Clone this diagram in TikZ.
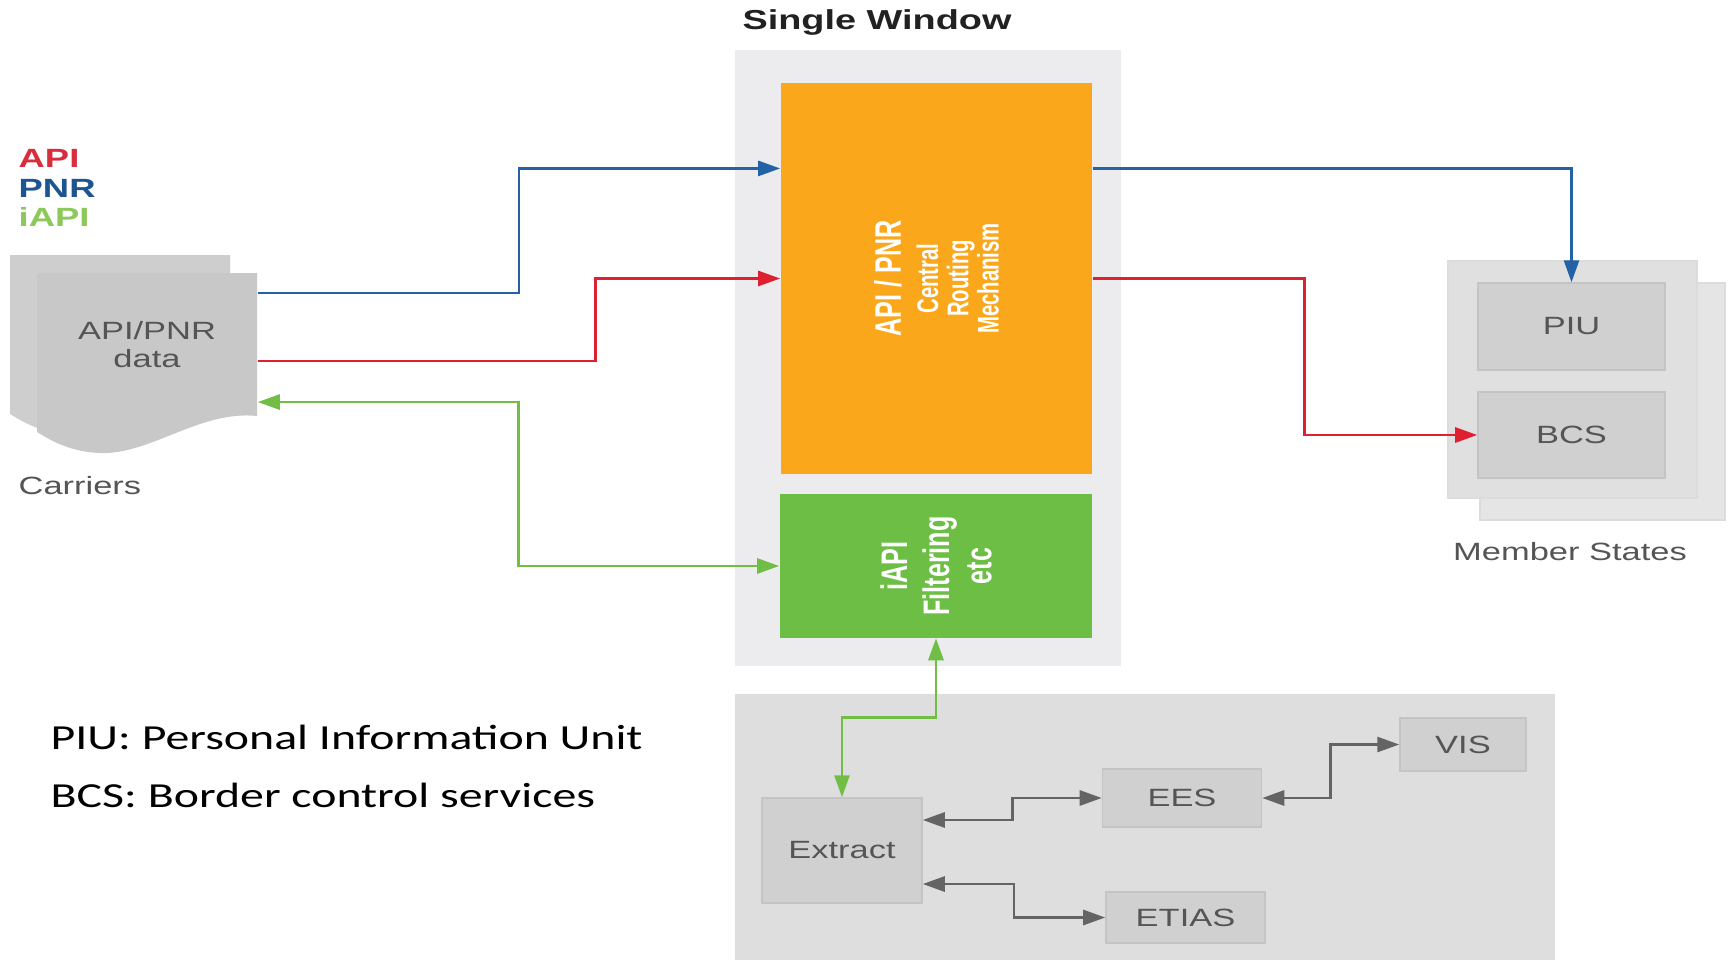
\documentclass[tikz,border=0pt]{standalone}
\usepackage{fontspec}
\setmainfont{Liberation Sans}[FakeStretch=1.38]
\newfontfamily\notefont{Carlito}[FakeStretch=1.36]
\newfontfamily\narrowfont{Liberation Sans}[FakeStretch=0.68]
\usetikzlibrary{arrows.meta,calc}

% Colours
\definecolor{routeorange}{RGB}{250,167,28}
\definecolor{filtergreen}{RGB}{109,190,69}
\definecolor{swpanel}{RGB}{236,236,239}
\definecolor{extpanel}{RGB}{222,222,222}
\definecolor{msfront}{RGB}{224,224,224}
\definecolor{msback}{RGB}{229,229,229}
\definecolor{boxfill}{RGB}{208,208,208}
\definecolor{boxline}{RGB}{196,196,196}
\definecolor{docfront}{RGB}{200,200,200}
\definecolor{docback}{RGB}{206,206,206}
\definecolor{labelgray}{RGB}{85,85,85}
\definecolor{pnrblue}{RGB}{35,98,165}
\definecolor{apired}{RGB}{222,32,48}
\definecolor{iapigreen}{RGB}{112,190,70}
\definecolor{linkgray}{RGB}{100,100,100}
\definecolor{legred}{RGB}{215,45,60}
\definecolor{legblue}{RGB}{30,85,145}
\definecolor{leggreen}{RGB}{140,200,90}

% Smaller lines of the routing label
\newcommand{\rtsmall}{\fontsize{8.5}{8.6}\selectfont}

\begin{document}
\begin{tikzpicture}[x=0.01cm, y=-0.01cm]

    % Define styles
    \tikzset{
        block/.style={draw=none, inner sep=0pt},
        block text/.style={rotate=90, align=center, text=white, inner sep=0pt,
            font=\narrowfont\bfseries\fontsize{10.5}{12}\selectfont},
        ms box/.style={draw=boxline, fill=boxfill, text=labelgray, inner sep=0pt,
            minimum width=1.87cm, font=\fontsize{7.1}{7.9}\selectfont},
        ext box/.style={ms box},
        caption/.style={text=labelgray, inner sep=0pt, font=\fontsize{7.1}{7.9}\selectfont},
        legend/.style={inner sep=0pt, anchor=west, font=\bfseries\fontsize{7.5}{8.4}\selectfont},
        note/.style={inner sep=0pt, anchor=west, text=black, font=\notefont\fontsize{10}{12}\selectfont},
        flow/.style={line width=0.75pt, -{Triangle[length=0.22cm, width=0.15cm]}},
        flow2/.style={line width=0.8pt, {Triangle[length=0.22cm, width=0.15cm]}-{Triangle[length=0.22cm, width=0.15cm]}},
        hvh/.style={to path={-| ($(\tikztostart)!0.5!(\tikztotarget)$) |- (\tikztotarget)}},
        vhv/.style={to path={|- ($(\tikztostart)!0.5!(\tikztotarget)$) -| (\tikztotarget)}}
    }

    \useasboundingbox (0,0) rectangle (1729,960);

    % Background panels
    \fill[swpanel] (735,50) rectangle (1121,666);
    \fill[extpanel] (735,694) rectangle (1555,960);
    \filldraw[fill=msback, draw=boxline!60] (1480,283) rectangle (1725,520);
    \filldraw[fill=msfront, draw=boxline!60] (1448,261) rectangle (1697,498);

    % Carrier documents, back sheet first
    \foreach \dx/\dy/\col in {-27/-18/docback, 0/0/docfront} {
        \fill[\col, shift={(\dx,\dy)}] (37,273) -- (257,273) -- (257,416)
            .. controls (200,410) and (150,455) .. (100,453)
            .. controls (70,452) and (50,440) .. (37,432) -- cycle;
    }

    % Title and legend
    \node[text=black!87, inner sep=0pt, font=\bfseries\fontsize{7.8}{9}\selectfont] (swtitle) at (877,22) {Single Window};
    \node[legend, text=legred] (legapi) at (18,158) {API};
    \node[legend, text=legblue] (legpnr) at (18,188) {PNR};
    \node[legend, text=leggreen] (legiapi) at (18,217) {iAPI};

    % Carriers
    \node[caption, align=center, minimum width=2.2cm, minimum height=1.43cm] (carriers) at (147,344.5) {API/PNR\\data};
    \node[caption, anchor=west] (carrierslabel) at (18,486) {Carriers};

    % Single window blocks
    \node[block, fill=routeorange, minimum width=3.11cm, minimum height=3.9cm] (routing) at (936.5,278.5) {};
    \node[block text, font=\narrowfont\bfseries\fontsize{10.5}{8.6}\selectfont] (routinglabel) at (routing.center)
        {API / PNR\\[2pt]\rtsmall Central\\\rtsmall Routing\\\rtsmall Mechanism};
    \node[block, fill=filtergreen, minimum width=3.12cm, minimum height=1.43cm] (filter) at (936,566) {};
    \node[block text] (filterlabel) at (filter.center) {iAPI\\Filtering\\etc};

    % Member states
    \node[ms box, minimum height=0.87cm] (piu) at (1571.5,326.5) {PIU};
    \node[ms box, minimum height=0.86cm] (bcs) at (1571.5,435) {BCS};
    \node[caption] (mslabel) at (1570,552) {Member States};

    % Extraction systems
    \node[ext box, minimum width=1.6cm, minimum height=1.05cm] (extract) at (842,850.5) {Extract};
    \node[ext box, minimum width=1.59cm, minimum height=0.58cm] (ees) at (1182,798) {EES};
    \node[ext box, minimum width=1.59cm, minimum height=0.51cm] (etias) at (1185.5,917.5) {ETIAS};
    \node[ext box, minimum width=1.26cm, minimum height=0.53cm] (vis) at (1463,744.5) {VIS};

    % Abbreviations
    \node[note] (notepiu) at (50,737) {PIU: Personal Information Unit};
    \node[note] (notebcs) at (50,795) {BCS: Border control services};

    % Data flows
    \draw[flow, pnrblue] ([yshift=0.515cm]carriers.east) to[hvh] ([yshift=1.1cm]routing.west);
    \draw[flow, apired] ([yshift=-0.165cm]carriers.east) -- ++(338,0) |- (routing.west);
    \draw[flow2, iapigreen] ([yshift=-0.575cm]carriers.east) to[hvh] (filter.west);
    \draw[flow, pnrblue] ([yshift=1.1cm]routing.east) -| (piu.north);
    \draw[flow, apired] (routing.east) -- ++(212,0) |- (bcs.west);
    \draw[flow2, iapigreen] (filter.south) to[vhv] (extract.north);
    \draw[flow2, linkgray] ([yshift=0.305cm]extract.east) to[hvh] (ees.west);
    \draw[flow2, linkgray] ([yshift=-0.335cm]extract.east) to[hvh] (etias.west);
    \draw[flow2, linkgray] (ees.east) to[hvh] (vis.west);

\end{tikzpicture}
\end{document}
